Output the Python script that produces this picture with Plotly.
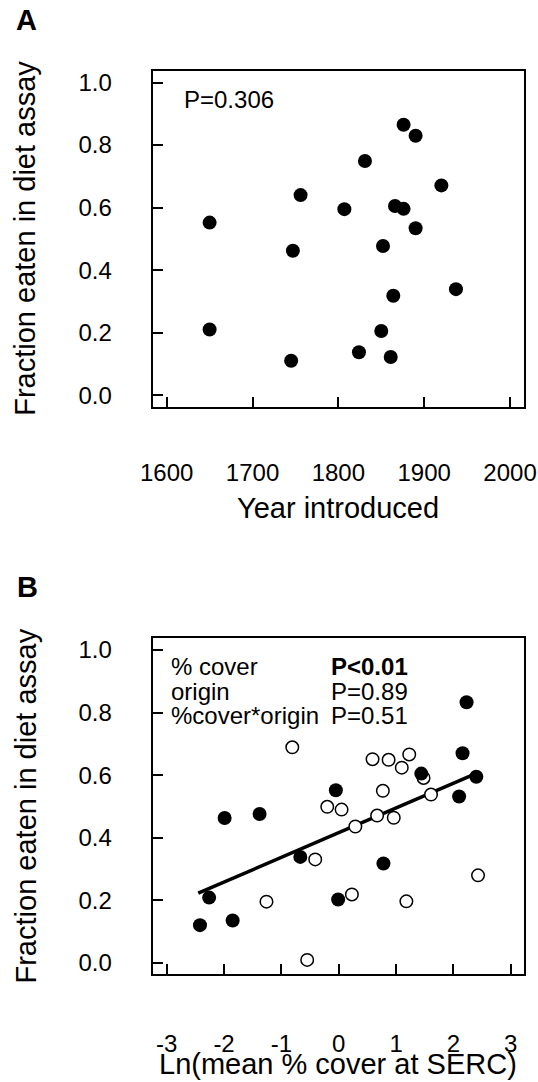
import plotly.graph_objects as go

# ---------------- data ----------------
# Panel A
year_introduced = [1650, 1650, 1756, 1747, 1745, 1807, 1831, 1824, 1852, 1850,
                   1864, 1861, 1866, 1876, 1876, 1890, 1890, 1920, 1937]
fraction_eaten_a = [0.552, 0.210, 0.640, 0.462, 0.110, 0.595, 0.749, 0.137, 0.477, 0.205,
                    0.318, 0.122, 0.605, 0.596, 0.865, 0.830, 0.534, 0.671, 0.339]

# Panel B, filled circles
ln_cover_filled = [-2.42, -2.26, -1.85, -1.99, -1.38, -0.67, -0.05, -0.01, 0.78, 1.44,
                   2.10, 2.16, 2.23, 2.40]
fraction_filled = [0.121, 0.209, 0.136, 0.463, 0.476, 0.339, 0.552, 0.203, 0.318, 0.605,
                   0.532, 0.670, 0.833, 0.595]

# Panel B, open circles
ln_cover_open = [-1.26, -0.81, -0.41, -0.55, -0.20, 0.05, 0.29, 0.23, 0.59, 0.67,
                 0.77, 0.87, 0.96, 1.10, 1.23, 1.18, 1.48, 1.61, 2.43]
fraction_open = [0.196, 0.689, 0.331, 0.010, 0.499, 0.490, 0.436, 0.219, 0.651, 0.471,
                 0.550, 0.649, 0.464, 0.624, 0.666, 0.197, 0.591, 0.538, 0.280]

# Panel B regression line end points
fit_x = [-2.45, 2.38]
fit_y = [0.223, 0.604]

x_ticks_a = [1600, 1700, 1800, 1900, 2000]
x_ticks_b = [-3, -2, -1, 0, 1, 2, 3]
x_ticktext_b = ["-3", "-2", "-1", "0", "1", "2", "3"]
y_ticks = [0.0, 0.2, 0.4, 0.6, 0.8, 1.0]

stats_labels = ["% cover", "origin", "%cover*origin"]
stats_values = ["<b>P<0.01</b>", "P=0.89", "P=0.51"]

# ---------------- layout helpers ----------------
W, H = 538, 1082
FONT = "Liberation Sans, Arial, Helvetica, sans-serif"


def px_x(p):
    return p / W


def px_y(p):
    return 1 - p / H


fig = go.Figure()

fig.add_trace(go.Scatter(x=year_introduced, y=fraction_eaten_a, mode="markers",
                         marker=dict(size=14, color="black"),
                         xaxis="x", yaxis="y", showlegend=False))

fig.add_trace(go.Scatter(x=fit_x, y=fit_y, mode="lines",
                         line=dict(color="black", width=3.5),
                         xaxis="x2", yaxis="y2", showlegend=False))
fig.add_trace(go.Scatter(x=ln_cover_open, y=fraction_open, mode="markers",
                         marker=dict(size=12.5, color="white",
                                     line=dict(color="black", width=1.5)),
                         xaxis="x2", yaxis="y2", showlegend=False))
fig.add_trace(go.Scatter(x=ln_cover_filled, y=fraction_filled, mode="markers",
                         marker=dict(size=14, color="black"),
                         xaxis="x2", yaxis="y2", showlegend=False))

axis_common = dict(showline=True, linecolor="black", linewidth=1.5, mirror=True,
                   ticks="inside", ticklen=10, tickwidth=1.5, tickcolor="black",
                   showgrid=False, zeroline=False, automargin=False,
                   ticklabeloverflow="allow",
                   tickfont=dict(family=FONT, size=24, color="black"))

x_dom = [px_x(153.3), px_x(523.5)]

fig.update_layout(
    template="none",
    width=W, height=H,
    autosize=False,
    margin=dict(l=0, r=0, t=0, b=0, pad=0),
    paper_bgcolor="white", plot_bgcolor="white",
    font=dict(family=FONT, color="black"),
    xaxis=dict(axis_common, domain=x_dom, anchor="y", range=[1584.4, 2015.7],
               tickvals=x_ticks_a, ticklabelstandoff=43),
    yaxis=dict(axis_common, domain=[px_y(407), px_y(70.7)], anchor="x",
               range=[-0.038, 1.038], tickvals=y_ticks, tickformat=".1f",
               ticklabelstandoff=35),
    xaxis2=dict(axis_common, domain=x_dom, anchor="y2", range=[-3.234, 3.223],
                tickvals=x_ticks_b, ticktext=x_ticktext_b, ticklabelstandoff=47),
    yaxis2=dict(axis_common, domain=[px_y(974), px_y(638.3)], anchor="x2",
                range=[-0.035, 1.037], tickvals=y_ticks, tickformat=".1f",
                ticklabelstandoff=35),
)

ann = []


def add_text(text, x, y, size, xanchor="left", bold=False, angle=0):
    ann.append(dict(text=f"<b>{text}</b>" if bold else text,
                    x=px_x(x), y=px_y(y), xref="paper", yref="paper",
                    xanchor=xanchor, yanchor="middle", showarrow=False,
                    textangle=angle,
                    font=dict(family=FONT, size=size, color="black")))


# panel letters
add_text("A", 14, 20.4, 29, bold=True)
add_text("B", 15, 586.7, 29, bold=True)

# axis titles
add_text("Year introduced", 338.4, 507.5, 29, xanchor="center")
add_text("Ln(mean % cover at SERC)", 338.4, 1063.5, 29, xanchor="center")
add_text("Fraction eaten in diet assay", 25, 238.8, 29, xanchor="center", angle=-90)
add_text("Fraction eaten in diet assay", 25, 806.5, 29, xanchor="center", angle=-90)

# panel A statistic
add_text("P=0.306", 182, 99.7, 24)

# panel B statistics
stat_rows_y = [666.5, 691.2, 715.6]
for lab, val, yy in zip(stats_labels, stats_values, stat_rows_y):
    add_text(lab, 169, yy, 24)
    add_text(val, 329, yy, 24)

fig.update_layout(annotations=ann)

# remove the page's default body margin so the figure fills the window exactly
fig.write_html("out.html",
               config={"displayModeBar": False},
               post_script="document.body.style.margin='0px';"
                           "document.body.style.overflow='hidden';")
